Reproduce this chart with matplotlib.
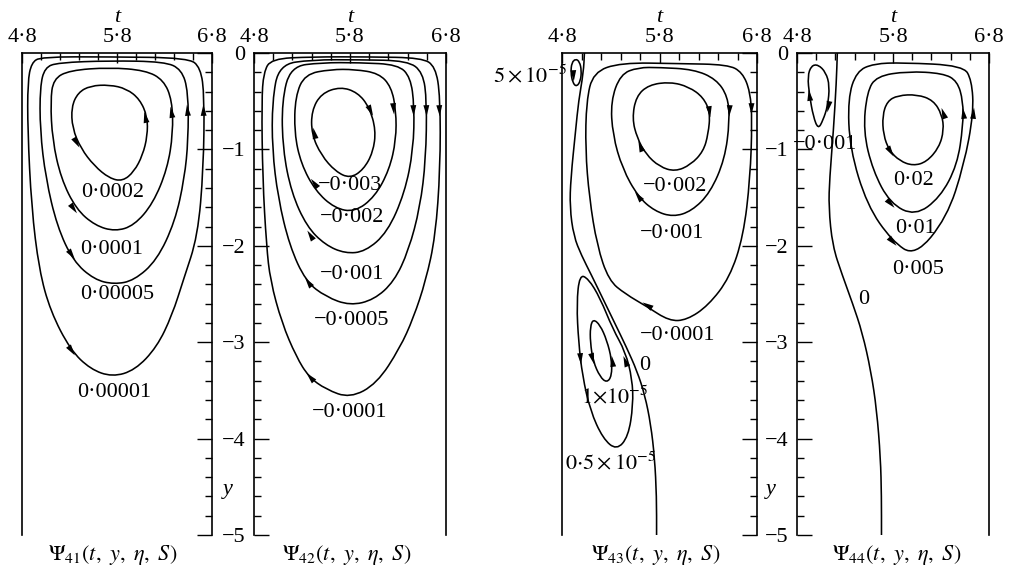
import numpy as np
import matplotlib.pyplot as plt
from matplotlib.path import Path
from matplotlib.patches import PathPatch
from matplotlib.markers import MarkerStyle
from matplotlib.ticker import MultipleLocator

plt.rcParams['font.family'] = ['Liberation Serif', 'DejaVu Serif']
plt.rcParams['mathtext.fontset'] = 'stix'

t_ticks = [4.8, 5.8, 6.8]
t_tick_labels = ['4·8', '5·8', '6·8']
y_ticks = [0, -1, -2, -3, -4, -5]
y_tick_labels = ['0', '−1', '−2', '−3', '−4', '−5']

# ---- Psi_41 : closed streamlines (t, y), listed clockwise ----
psi41_curves = [
    [(5.72, -0.33), (5.90, -0.37), (6.04, -0.48), (6.12, -0.66), (6.12, -0.86), (6.07, -1.06), (5.98, -1.23),
     (5.86, -1.33), (5.72, -1.30), (5.56, -1.17), (5.42, -0.99), (5.33, -0.78), (5.32, -0.56), (5.39, -0.41),
     (5.52, -0.34)],
    [(5.30, -0.18), (5.72, -0.15), (6.10, -0.18), (6.29, -0.28), (6.38, -0.49), (6.39, -0.83), (6.33, -1.20),
     (6.18, -1.56), (5.98, -1.79), (5.78, -1.85), (5.57, -1.79), (5.37, -1.62), (5.21, -1.30), (5.12, -0.90),
     (5.10, -0.50), (5.13, -0.27)],
    [(5.18, -0.10), (5.72, -0.08), (6.30, -0.09), (6.48, -0.17), (6.55, -0.40), (6.55, -0.90), (6.51, -1.30),
     (6.41, -1.75), (6.22, -2.15), (5.98, -2.36), (5.77, -2.40), (5.56, -2.35), (5.34, -2.16), (5.17, -1.80),
     (5.05, -1.30), (4.99, -0.80), (4.99, -0.35), (5.04, -0.15)],
    [(5.00, -0.04), (5.72, -0.04), (6.55, -0.05), (6.68, -0.15), (6.72, -0.45), (6.71, -1.20), (6.65, -1.90),
     (6.50, -2.35), (6.38, -2.72), (6.22, -3.05), (5.99, -3.29), (5.75, -3.36), (5.52, -3.28), (5.31, -3.08),
     (5.10, -2.68), (4.98, -2.25), (4.90, -1.60), (4.86, -0.80), (4.86, -0.30), (4.90, -0.10)],
]
psi41_values = ['0·0002', '0·0001', '0·00005', '0·00001']
psi41_flow = [-1, -1, -1, -1]
psi41_arrows = [[(6.09, -0.66), (5.37, -0.92)], [(6.37, -0.61), (5.34, -1.61)],
                [(6.54, -0.59), (5.32, -2.08)], [(6.71, -0.59), (5.32, -3.08)]]
psi41_value_xy = [(5.75, -1.45), (5.74, -2.04), (5.80, -2.51), (5.77, -3.52)]

# ---- Psi_42 ----
psi42_curves = [
    [(5.70, -0.35), (5.88, -0.41), (6.00, -0.56), (6.07, -0.80), (6.04, -1.03), (5.94, -1.21), (5.80, -1.30),
     (5.65, -1.23), (5.50, -1.06), (5.40, -0.84), (5.40, -0.60), (5.50, -0.42)],
    [(5.60, -0.17), (5.85, -0.17), (6.10, -0.21), (6.23, -0.35), (6.28, -0.60), (6.28, -0.90), (6.21, -1.21),
     (6.06, -1.49), (5.85, -1.65), (5.64, -1.61), (5.44, -1.43), (5.29, -1.15), (5.22, -0.83), (5.23, -0.45),
     (5.33, -0.22)],
    [(5.50, -0.10), (5.90, -0.10), (6.30, -0.12), (6.43, -0.25), (6.47, -0.55), (6.46, -1.00), (6.37, -1.45),
     (6.19, -1.86), (5.96, -2.06), (5.75, -2.08), (5.54, -1.99), (5.35, -1.80), (5.19, -1.45), (5.10, -1.00),
     (5.09, -0.50), (5.18, -0.14)],
    [(5.40, -0.07), (5.90, -0.07), (6.40, -0.08), (6.56, -0.20), (6.60, -0.50), (6.59, -1.10), (6.53, -1.60),
     (6.41, -2.05), (6.26, -2.37), (6.05, -2.56), (5.80, -2.62), (5.55, -2.53), (5.34, -2.37), (5.17, -2.00),
     (5.05, -1.50), (4.99, -1.00), (4.99, -0.50), (5.06, -0.12)],
    [(5.40, -0.04), (6.00, -0.04), (6.55, -0.05), (6.69, -0.14), (6.74, -0.45), (6.74, -1.20), (6.69, -1.90),
     (6.59, -2.36), (6.46, -2.75), (6.32, -3.06), (6.08, -3.43), (5.80, -3.58), (5.55, -3.49), (5.37, -3.36),
     (5.24, -3.15), (5.09, -2.80), (4.97, -2.36), (4.93, -2.00), (4.89, -1.30), (4.88, -0.50), (4.90, -0.20),
     (4.98, -0.06)],
]
psi42_values = ['−0·003', '−0·002', '−0·001', '−0·0005', '−0·0001']
psi42_flow = [1, 1, 1, 1, 1]
psi42_arrows = [[(6.01, -0.59), (5.42, -0.83)], [(6.25, -0.57), (5.42, -1.35)], [(6.46, -0.59), (5.38, -1.89)],
                [(6.59, -0.59), (5.36, -2.38)], [(6.73, -0.59), (5.38, -3.36)]]
psi42_value_xy = [(5.80, -1.37), (5.82, -1.71), (5.82, -2.30), (5.82, -2.77), (5.80, -3.73)]

# ---- Psi_43 ----
psi43_curves = [
    [(5.91, -0.30), (6.10, -0.35), (6.25, -0.46), (6.32, -0.62), (6.30, -0.84), (6.25, -1.02), (6.12, -1.16),
     (5.96, -1.23), (5.80, -1.18), (5.66, -1.05), (5.57, -0.88), (5.52, -0.68), (5.56, -0.45), (5.69, -0.33)],
    [(5.80, -0.15), (6.15, -0.17), (6.38, -0.27), (6.50, -0.45), (6.52, -0.70), (6.47, -1.10), (6.32, -1.45),
     (6.13, -1.64), (5.94, -1.70), (5.75, -1.64), (5.58, -1.49), (5.42, -1.20), (5.32, -0.85), (5.30, -0.50),
     (5.40, -0.22), (5.58, -0.15)],
    [(5.40, -0.10), (6.00, -0.11), (6.50, -0.12), (6.65, -0.20), (6.73, -0.40), (6.75, -0.70), (6.73, -1.30),
     (6.66, -1.90), (6.52, -2.33), (6.30, -2.62), (6.08, -2.77), (5.90, -2.78), (5.67, -2.63), (5.45, -2.50),
     (5.28, -2.36), (5.16, -2.00), (5.08, -1.50), (5.04, -1.00), (5.05, -0.50), (5.12, -0.20)],
    [(4.94, -0.06), (4.98, -0.09), (5.00, -0.18), (4.99, -0.29), (4.95, -0.35), (4.91, -0.31), (4.89, -0.20),
     (4.90, -0.10)],
    [(4.98, -2.30), (5.07, -2.34), (5.19, -2.54), (5.32, -2.86), (5.45, -3.10), (5.52, -3.38), (5.53, -3.65),
     (5.48, -3.98), (5.36, -4.12), (5.22, -4.00), (5.09, -3.71), (5.01, -3.35), (4.97, -3.00), (4.95, -2.60)],
    [(5.12, -2.76), (5.19, -2.82), (5.26, -2.98), (5.31, -3.18), (5.31, -3.35), (5.26, -3.42), (5.19, -3.36),
     (5.12, -3.20), (5.09, -3.00), (5.09, -2.84)],
]
psi43_zero = [(5.03, 0.0), (5.02, -0.20), (4.97, -0.50), (4.94, -0.80), (4.89, -1.30), (4.88, -1.60),
              (4.92, -1.90), (5.00, -2.10), (5.10, -2.30), (5.22, -2.55), (5.34, -2.80), (5.46, -3.05),
              (5.57, -3.30), (5.65, -3.55), (5.71, -3.85), (5.75, -4.20), (5.77, -4.60), (5.77, -5.00)]
psi43_flow = [1, 1, 1, -1, -1, -1]
psi43_arrows = [[(6.31, -0.60), (5.60, -0.96)], [(6.51, -0.59), (5.58, -1.48)], [(6.74, -0.57), (5.67, -2.61)],
                [(4.91, -0.23)], [(4.98, -3.16), (5.45, -3.20)], [(5.11, -3.16), (5.31, -3.20)]]
psi43_values = ['−0·002', '−0·001', '−0·0001', r'$5\times10^{-5}$', r'$0{\cdot}5\times10^{-5}$',
                r'$1{\times}10^{-5}$', '0']
psi43_value_xy = [(5.96, -1.38), (5.93, -1.87), (5.99, -2.93), (4.47, -0.24), (5.30, -4.25), (5.34, -3.57),
                  (5.65, -3.24)]

# ---- Psi_44 ----
psi44_curves = [
    [(5.85, -0.44), (6.05, -0.43), (6.22, -0.49), (6.31, -0.64), (6.33, -0.80), (6.28, -0.98), (6.15, -1.13),
     (6.01, -1.17), (5.87, -1.12), (5.76, -1.01), (5.70, -0.85), (5.69, -0.65), (5.74, -0.50)],
    [(5.95, -0.19), (6.32, -0.21), (6.47, -0.29), (6.53, -0.50), (6.53, -0.75), (6.47, -1.16), (6.29, -1.50),
     (6.03, -1.69), (5.77, -1.56), (5.59, -1.22), (5.49, -0.81), (5.53, -0.40), (5.63, -0.24)],
    [(5.90, -0.10), (6.53, -0.13), (6.62, -0.28), (6.64, -0.62), (6.54, -1.16), (6.36, -1.71), (6.03, -2.11),
     (5.79, -1.95), (5.53, -1.58), (5.35, -0.99), (5.33, -0.47), (5.42, -0.19), (5.60, -0.11)],
    [(5.02, -0.12), (5.10, -0.20), (5.14, -0.34), (5.12, -0.55), (5.07, -0.70), (5.02, -0.79), (4.97, -0.66),
     (4.93, -0.44), (4.91, -0.24), (4.95, -0.13)],
]
psi44_zero = [(5.22, 0.0), (5.21, -0.30), (5.18, -0.80), (5.14, -1.30), (5.13, -1.60), (5.17, -2.00),
              (5.27, -2.30), (5.38, -2.60), (5.48, -2.90), (5.57, -3.30), (5.63, -3.70), (5.67, -4.20),
              (5.68, -4.60), (5.68, -5.00)]
psi44_flow = [-1, -1, -1, 1]
psi44_arrows = [[(6.32, -0.62), (5.77, -1.02)], [(6.53, -0.62), (5.77, -1.56)], [(6.63, -0.62), (5.79, -1.95)],
                [(4.93, -0.44), (5.12, -0.55)]]
psi44_values = ['0·02', '0·01', '0·005', '−0·001', '0']
psi44_value_xy = [(6.01, -1.32), (6.03, -1.82), (6.06, -2.25), (5.09, -0.95), (5.49, -2.56)]

titles = [r'$\Psi_{41}(t,\ y,\ \eta,\ S)$', r'$\Psi_{42}(t,\ y,\ \eta,\ S)$',
          r'$\Psi_{43}(t,\ y,\ \eta,\ S)$', r'$\Psi_{44}(t,\ y,\ \eta,\ S)$']
title_t = [5.75, 5.77, 5.76, 5.84]


def smooth_path(pts, closed=True):
    v = np.asarray(pts, float)
    if closed:
        mids = (v + np.roll(v, -1, axis=0)) / 2
        verts = [mids[-1]]
        codes = [Path.MOVETO]
        for i in range(len(v)):
            verts += [v[i], mids[i]]
            codes += [Path.CURVE3, Path.CURVE3]
    else:
        mids = (v[1:] + v[:-1]) / 2
        verts = [v[0], mids[0]]
        codes = [Path.MOVETO, Path.LINETO]
        for i in range(1, len(v) - 1):
            verts += [v[i], mids[i]]
            codes += [Path.CURVE3, Path.CURVE3]
        verts.append(v[-1])
        codes.append(Path.LINETO)
    return Path(verts, codes)


head = Path([(1, 0), (-0.9, 0.5), (-0.9, -0.5), (1, 0)],
            [Path.MOVETO, Path.LINETO, Path.LINETO, Path.CLOSEPOLY])


def add_arrow(ax, pts, p, sign):
    v = np.asarray(pts, float)
    n = len(v)
    i = np.argmin(np.hypot(v[:, 0] - p[0], v[:, 1] - p[1]))
    a = ax.transData.transform(v[(i - 1) % n])
    b = ax.transData.transform(v[(i + 1) % n])
    d = (b - a) * sign
    ang = np.degrees(np.arctan2(d[1], d[0]))
    ax.plot(p[0], p[1], marker=MarkerStyle(head).rotated(deg=ang), ms=8.5, color='k',
            markeredgewidth=0, clip_on=False, zorder=5)


W, H = 1011, 570
fig = plt.figure(figsize=(W / 100, H / 100), dpi=100)
box_l = [22, 254, 562, 797]
box_r = [212, 446, 757, 989]
top, bot = 53, 535

panels = [
    (psi41_curves, psi41_flow, psi41_arrows, psi41_values, psi41_value_xy, None),
    (psi42_curves, psi42_flow, psi42_arrows, psi42_values, psi42_value_xy, None),
    (psi43_curves, psi43_flow, psi43_arrows, psi43_values, psi43_value_xy, psi43_zero),
    (psi44_curves, psi44_flow, psi44_arrows, psi44_values, psi44_value_xy, psi44_zero),
]

for k, (curves, flow, arrows, values, value_xy, zero) in enumerate(panels):
    ax = fig.add_axes([box_l[k] / W, (H - bot) / H, (box_r[k] - box_l[k]) / W, (bot - top) / H])
    ax.set_xlim(4.8, 6.8)
    ax.set_ylim(-5, 0)
    ax.spines['bottom'].set_visible(False)
    for s in ['top', 'left', 'right']:
        ax.spines[s].set_linewidth(1.2)

    ax.xaxis.tick_top()
    ax.set_xticks(t_ticks)
    ax.set_xticklabels(t_tick_labels)
    ax.xaxis.set_minor_locator(MultipleLocator(0.2))
    ax.tick_params(axis='x', which='both', direction='in', top=True, bottom=False,
                   labelsize=16, pad=4, width=1.0)
    ax.tick_params(axis='x', which='major', length=7)
    ax.tick_params(axis='x', which='minor', length=5)

    ax.set_yticks(y_ticks)
    ax.yaxis.set_minor_locator(MultipleLocator(0.2))
    if k % 2 == 0:
        ax.yaxis.tick_right()
        ax.set_yticklabels([])
        ax.tick_params(axis='y', which='both', direction='in', left=False, right=True, width=1.0)
    else:
        ax.yaxis.tick_left()
        ax.set_yticklabels(y_tick_labels)
        ax.tick_params(axis='y', which='both', direction='in', left=True, right=False,
                       labelsize=16, pad=6, width=1.0)
        ax.text(4.53, -4.53, 'y', fontsize=16, style='italic', ha='center', va='center', clip_on=False)
    ax.tick_params(axis='y', which='major', length=11)
    ax.tick_params(axis='y', which='minor', length=5)

    for pts, sgn, arr in zip(curves, flow, arrows):
        ax.add_patch(PathPatch(smooth_path(pts), fill=False, lw=1.15, ec='k', zorder=3))
        for p in arr:
            add_arrow(ax, pts, p, sgn)
    if zero is not None:
        ax.add_patch(PathPatch(smooth_path(zero, closed=False), fill=False, lw=1.15, ec='k', zorder=3))

    for txt, (tx, ty) in zip(values, value_xy):
        ax.text(tx, ty, txt, fontsize=16, ha='center', va='center', clip_on=False, zorder=6)

    ax.text(5.8, 0.37, 't', fontsize=16, style='italic', ha='center', va='center', clip_on=False)
    ax.text(title_t[k], -5.21, titles[k], fontsize=16, ha='center', va='center', clip_on=False)

fig.savefig('out.png', dpi=100)
